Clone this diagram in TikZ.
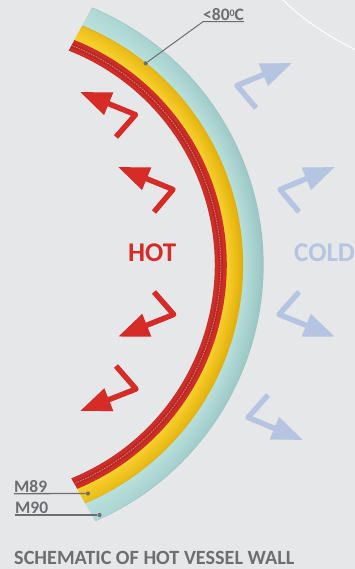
\documentclass[tikz,border=0pt]{standalone}
\usepackage{fontspec}
\setmainfont{Carlito}
\usepackage{tikz}
\usetikzlibrary{arrows.meta,fadings}
\definecolor{bgc}{HTML}{E6E7E9}
\definecolor{hotc}{HTML}{D62B27}
\definecolor{coldc}{HTML}{B5C4E0}
\definecolor{greyc}{HTML}{6D6E71}
\definecolor{ringc}{HTML}{CD2E28}
\definecolor{yelin}{HTML}{F9D22F}
\definecolor{yelout}{HTML}{E2AE08}
\definecolor{tealin}{HTML}{B9E1DE}
\definecolor{tealout}{HTML}{97C3C1}
\begin{document}
\begin{tikzpicture}[x=1pt,y=1pt,
  bent/.style={line width=5.4pt,line join=round,-{Triangle[length=31pt,width=23pt]}},
  lab/.style={inner xsep=0pt,inner ysep=1.2pt,text=greyc,font=\bfseries\fontsize{17.5}{17.5}\selectfont},
  big/.style={inner sep=0pt,font=\bfseries\fontsize{27}{27}\selectfont},
  leader/.style={draw=greyc,line width=1pt},
  dot/.style={circle,fill=greyc,inner sep=0pt,minimum size=4.2pt}]
\useasboundingbox[fill=bgc] (0,0) rectangle (355,569);
\begin{scope}
\clip (0,0) rectangle (355,569);
\draw[white,line width=1pt] (283,569) .. controls (304,548) and (330,532) .. (356,519);
\begin{scope}
\clip (103,581) -- (58,499) -- (58,114) -- (108,26) -- (355,26) -- (355,581) -- cycle;
% wall layers
\foreach \t in {0,4,...,100}
  \draw[tealout!\t!tealin,line width=1.3pt] ({-15.6+(258+0.205*\t)*cos(72)},{304-(258+0.205*\t)*sin(72)})
    arc[start angle=-72,end angle=72,radius={(258+0.205*\t)*1pt}];
\fill[tealin,path fading=east,opacity=.8] ({-15.6+257.5*cos(72)},{304-257.5*sin(72)})
    arc[start angle=-72,end angle=72,radius=257.5pt] -- ({-15.6+278.6*cos(72)},{304+278.6*sin(72)})
    arc[start angle=72,end angle=-72,radius=278.6pt] -- cycle;
\foreach \t in {0,5,...,100}
  \draw[yelout!\t!yelin,line width=1.3pt] ({-15.6+(242+0.16*\t)*cos(72)},{304-(242+0.16*\t)*sin(72)})
    arc[start angle=-72,end angle=72,radius={(242+0.16*\t)*1pt}];
\fill[yelin,path fading=east,opacity=.5] ({-15.6+241.5*cos(72)},{304-241.5*sin(72)})
    arc[start angle=-72,end angle=72,radius=241.5pt] -- ({-15.6+258*cos(72)},{304+258*sin(72)})
    arc[start angle=72,end angle=-72,radius=258pt] -- cycle;
\draw[ringc,line width=12pt] ({-15.6+236.3*cos(72)},{304-236.3*sin(72)})
    arc[start angle=-72,end angle=72,radius=236.3pt];
\draw[black!50!ringc,line width=4.5pt,opacity=.2] ({-15.6+236.3*cos(72)},{304-236.3*sin(72)})
    arc[start angle=-72,end angle=72,radius=236.3pt];
\draw[red!35!white,line width=.9pt,dash pattern=on 1.5pt off 1.2pt,opacity=.6] ({-15.6+236.3*cos(72)},{304-236.3*sin(72)})
    arc[start angle=-72,end angle=72,radius=236.3pt];
\end{scope}
% arrows
\foreach \a/\b/\c/\d/\e/\f in {116/432/135.5/454.3/80/477,154/357/173/379.5/118/402,154/277/173.7/254.5/118/232.3,116/203/136/180/80/158}
  \draw[bent,hotc] (\a,\b) -- (\c,\d) -- (\e,\f);
\foreach \a/\b/\c/\d/\e/\f in {256/461/237/483.5/292/506,299/357/280/379.5/335/402,299/277/279/254.5/335/232.3,268/174/248/151.5/303/129}
  \draw[bent,coldc] (\a,\b) -- (\c,\d) -- (\e,\f);
\node (hot) [big,text=hotc,anchor=west] at (128,316) {HOT};
\node (cold) [big,text=coldc,anchor=west] at (294,316) {COLD};
\end{scope}
% labels
\node (t80) [lab,anchor=south west] at (203,547.3) {<80\raisebox{4pt}{\fontsize{10}{10}\selectfont 0}C};
\node (d80) [dot] at (145.7,505.7) {};
\draw[leader] (t80.south east) -- (t80.south west) -- (d80);
\node (m89) [lab,anchor=south west] at (14,75.3) {M89};
\node (d89) [dot] at (88,75.5) {};
\draw[leader,line width=1.3pt] (m89.south west) -- (d89);
\node (m90) [lab,anchor=south west] at (15,54) {M90};
\node (d90) [dot] at (99.5,54) {};
\draw[leader,line width=1.3pt] (m90.south west) -- (d90);
\node (cap) [lab,anchor=base west,inner sep=0pt,font=\bfseries\fontsize{20.2}{20.2}\selectfont] at (14,5) {SCHEMATIC OF HOT VESSEL WALL};
\end{tikzpicture}
\end{document}
